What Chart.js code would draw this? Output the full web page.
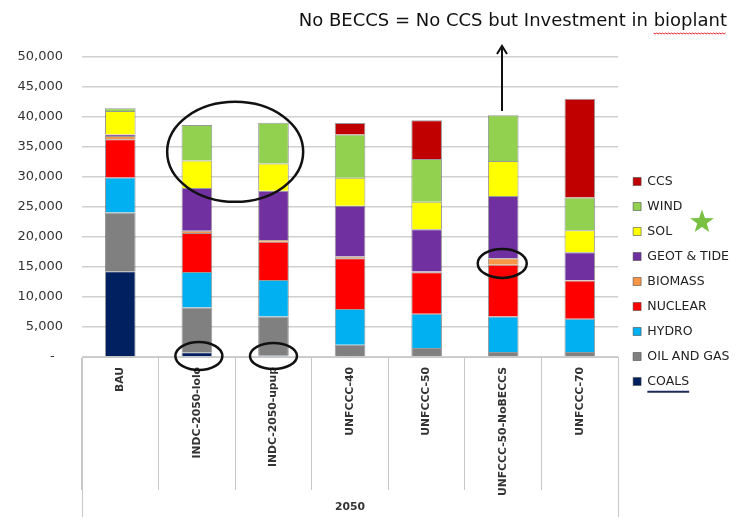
<!DOCTYPE html>
<html>
<head>
<meta charset="utf-8">
<script src="https://cdn.jsdelivr.net/npm/chart.js@4.4.0/dist/chart.umd.min.js"></script>
<style>
  html, body { margin: 0; padding: 0; background: #fff; }
  #wrap { width: 741px; height: 520px; position: relative; }
</style>
</head>
<body>
<div id="wrap"><canvas id="energyChart"></canvas></div>
<script>
const categories = ['BAU', 'INDC-2050-lolo', 'INDC-2050-upup', 'UNFCCC-40', 'UNFCCC-50', 'UNFCCC-50-NoBECCS', 'UNFCCC-70'];
const groupLabel = '2050';

// stacked bottom -> top
const coals   = [14300,  800,  300,    0,    0,     0,     0];
const oilGas  = [ 9800, 7450, 6450, 2050, 1500,   830,   830];
const hydro   = [ 5800, 5900, 6100, 5930, 5700,  5930,  5550];
const nuclear = [ 6400, 6500, 6370, 8480, 6930,  8600,  6380];
const biomass = [  550,  400,  280,  280,  100,  1100,    80];
const geot    = [  250, 7100, 8200, 8480, 7050, 10370,  4600];
const sol     = [ 3900, 4600, 4550, 4650, 4600,  5820,  3700];
const wind    = [  450, 5900, 6800, 7200, 7100,  7650,  5430];
const ccs     = [    0,    0,    0, 1950, 6480,     0, 16460];

const seriesNames  = ['COALS', 'OIL AND GAS', 'HYDRO', 'NUCLEAR', 'BIOMASS', 'GEOT & TIDE', 'SOL', 'WIND', 'CCS'];
const seriesValues = [coals, oilGas, hydro, nuclear, biomass, geot, sol, wind, ccs];
const seriesColors = ['#002060', '#808080', '#00B0F0', '#FF0000', '#F79646', '#7030A0', '#FFFF00', '#92D050', '#C00000'];

const yTicks = [0, 5000, 10000, 15000, 20000, 25000, 30000, 35000, 40000, 45000, 50000];

const noteText = 'No BECCS = No CCS but Investment in bioplant';

Chart.defaults.font.family = '"DejaVu Sans", sans-serif';
Chart.defaults.color = '#333';

const datasets = seriesNames.map((name, i) => ({
  label: name,
  data: seriesValues[i],
  backgroundColor: seriesColors[i],
  borderColor: 'rgba(70,70,70,0.55)',
  borderWidth: 1,
  barPercentage: 0.4,
  categoryPercentage: 1
}));

function ellipse(ctx, cx, cy, rx, ry) {
  ctx.beginPath();
  ctx.ellipse(cx, cy, rx, ry, 0, 0, Math.PI * 2);
  ctx.stroke();
}

const annotations = {
  id: 'annotations',
  afterLayout(chart) {
    // nudge the legend a little away from the plot, like the original
    chart.legend.left += 2.5;
    chart.legend.right += 2.5;
  },
  afterDraw(chart) {
    const ctx = chart.ctx;
    const xs = chart.scales.x, ys = chart.scales.y;
    const area = chart.chartArea;
    ctx.save();

    // outer boundaries of the category axis go down to the group row
    ctx.strokeStyle = '#c8c8c8';
    ctx.lineWidth = 1;
    [area.left, area.right].forEach(px => {
      const x = Math.round(px) + 0.5;
      ctx.beginPath();
      ctx.moveTo(x, xs.top);
      ctx.lineTo(x, 517);
      ctx.stroke();
    });

    // note text + spell-check squiggle
    ctx.font = '18px "DejaVu Sans"';
    ctx.fillStyle = '#111';
    ctx.textAlign = 'right';
    ctx.textBaseline = 'middle';
    ctx.fillText(noteText, 727, 21);
    const wb = ctx.measureText('bioplant').width;
    ctx.strokeStyle = '#e02020';
    ctx.lineWidth = 1;
    ctx.beginPath();
    for (let x = 727 - wb, k = 0; x <= 727; x += 1.5, k++) {
      const y = 33 + (k % 2 ? 1 : 0);
      if (k === 0) ctx.moveTo(x, y); else ctx.lineTo(x, y);
    }
    ctx.stroke();

    // arrow from NoBECCS bar up to the note
    const ax = Math.round(xs.getPixelForValue(5)) - 1;
    ctx.strokeStyle = '#111';
    ctx.lineWidth = 2;
    ctx.beginPath();
    ctx.moveTo(ax, ys.getPixelForValue(41000));
    ctx.lineTo(ax, 46);
    ctx.moveTo(ax - 5, 54);
    ctx.lineTo(ax, 46);
    ctx.lineTo(ax + 5, 54);
    ctx.stroke();

    // circles
    ctx.lineWidth = 2.5;
    ellipse(ctx, (xs.getPixelForValue(1) + xs.getPixelForValue(2)) / 2, ys.getPixelForValue(34200), 68, 50);
    ellipse(ctx, xs.getPixelForValue(1) + 2, ys.getPixelForValue(0) - 1, 23.5, 14);
    ellipse(ctx, xs.getPixelForValue(2), ys.getPixelForValue(0) - 1, 23.5, 13);
    ellipse(ctx, xs.getPixelForValue(5) - 1, ys.getPixelForValue(15600), 24.5, 14.5);

    // legend decorations: star near WIND, underline under COALS
    const hb = chart.legend.legendHitBoxes;
    const lab = chart.options.plugins.legend.labels;
    const textOff = lab.boxWidth + lab.font.size / 2;
    const sx = 702, sy = 222;
    ctx.fillStyle = '#7ac143';
    ctx.beginPath();
    for (let i = 0; i < 10; i++) {
      const r = i % 2 ? 5 : 12.5;
      const a = -Math.PI / 2 + i * Math.PI / 5;
      const px = sx + r * Math.cos(a), py = sy + r * Math.sin(a);
      if (i === 0) ctx.moveTo(px, py); else ctx.lineTo(px, py);
    }
    ctx.closePath();
    ctx.fill();

    const c = hb[hb.length - 1];
    ctx.strokeStyle = '#1f2a5a';
    ctx.lineWidth = 2;
    ctx.beginPath();
    ctx.moveTo(c.left + textOff, c.top + c.height + 4);
    ctx.lineTo(c.left + c.width, c.top + c.height + 4);
    ctx.stroke();

    ctx.restore();
  }
};

new Chart(document.getElementById('energyChart'), {
  type: 'bar',
  data: { labels: categories, datasets: datasets },
  options: {
    responsive: true,
    maintainAspectRatio: false,
    animation: false,
    layout: { padding: { top: 57, bottom: 14, left: 17.5, right: 4 } },
    scales: {
      x: {
        stacked: true,
        grid: { drawOnChartArea: false, drawTicks: true, tickLength: 133, color: '#c8c8c8' },
        border: { display: true, color: '#c8c8c8' },
        ticks: {
          autoSkip: false, maxRotation: 90, minRotation: 90, padding: -123,
          font: { size: 10.8, weight: 'bold' }, color: '#333'
        },
        title: {
          display: true, text: groupLabel, color: '#333',
          font: { size: 10.8, weight: 'bold' }, padding: { top: 0, bottom: -8 }
        },
        afterFit: s => { s.height = 149; }
      },
      y: {
        stacked: true,
        min: 0, max: 50000,
        afterBuildTicks: s => { s.ticks = yTicks.map(v => ({ value: v })); },
        grid: { drawTicks: false, color: '#d0d0d0', lineWidth: 1.5 },
        border: { display: false },
        ticks: {
          padding: 19, color: '#333', font: { size: 13 },
          callback: v => v === 0 ? '-  ' : v.toLocaleString('en-US')
        },
        afterFit: s => { s.width = 64.5; }
      }
    },
    plugins: {
      legend: {
        position: 'right',
        reverse: true,
        labels: { boxWidth: 8, boxHeight: 8, padding: 12.5, font: { size: 12.5 }, color: '#222' }
      },
      tooltip: { enabled: false }
    }
  },
  plugins: [annotations]
});
</script>
</body>
</html>
